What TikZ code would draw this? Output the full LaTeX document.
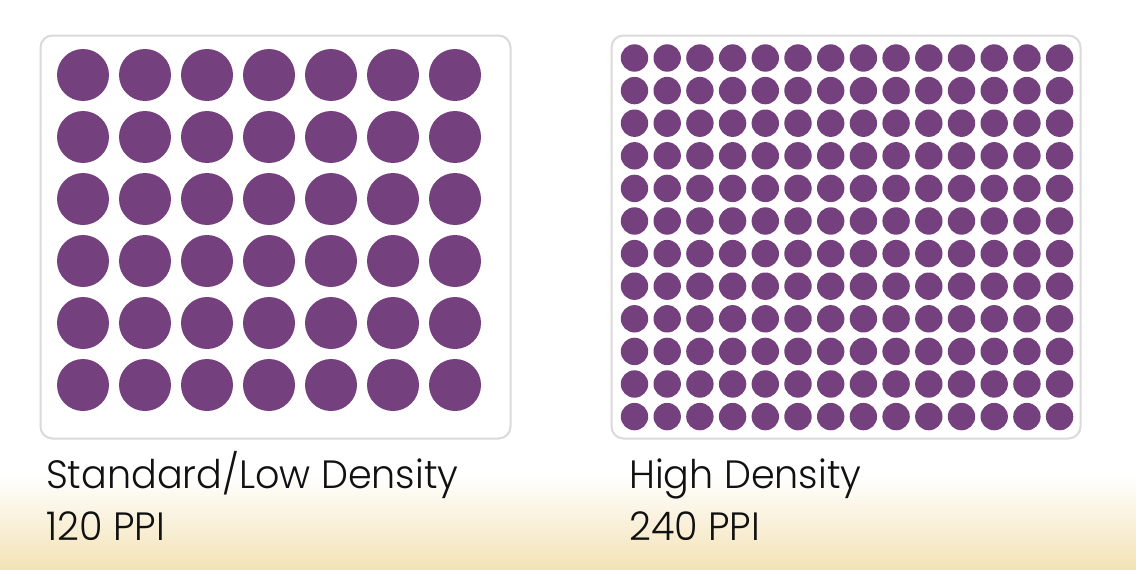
\documentclass[tikz,border=0pt]{standalone}
\usepackage{fontspec}
\setmainfont{Poppins}[UprightFont=* Light]
\definecolor{dotpurple}{HTML}{74407E}
\definecolor{boxgray}{HTML}{DADADA}
\definecolor{beige}{HTML}{F3E2B5}
\definecolor{txt}{HTML}{111111}
\tikzset{
  panel/.style={draw=boxgray, line width=2pt, fill=white, rounded corners=12pt},
  dot/.style={fill=dotpurple},
  label/.style={anchor=base west, inner sep=0pt, text=txt, xscale=0.965, font=\fontsize{39.5}{44}\selectfont}
}
\begin{document}
\begin{tikzpicture}[x=1pt,y=-1pt]
\useasboundingbox (0,0) rectangle (1136,570);
\fill[white] (0,0) rectangle (1136,570);
\shade[top color=white, bottom color=beige] (0,475) rectangle (1136,570);
% left panel
\draw[panel] (40.5,35.5) rectangle (510.5,438.5);
\foreach \i in {0,...,6}
  \foreach \j in {0,...,5}
    \fill[dot] (83+62*\i,75+62*\j) circle (26);
% right panel
\draw[panel] (611.5,35.5) rectangle (1080.5,438.5);
\foreach \i in {0,...,13}
  \foreach \j in {0,...,11}
    \fill[dot] (634.5+32.7*\i,58+32.6*\j) circle (13.7);
% labels
\node[label] (l1) at (46,488) {Standard/Low Density};
\node[label] (l2) at (46,540) {120 PPI};
\node[label] (r1) at (629,488) {High Density};
\node[label] (r2) at (629,540) {240 PPI};
\end{tikzpicture}
\end{document}
